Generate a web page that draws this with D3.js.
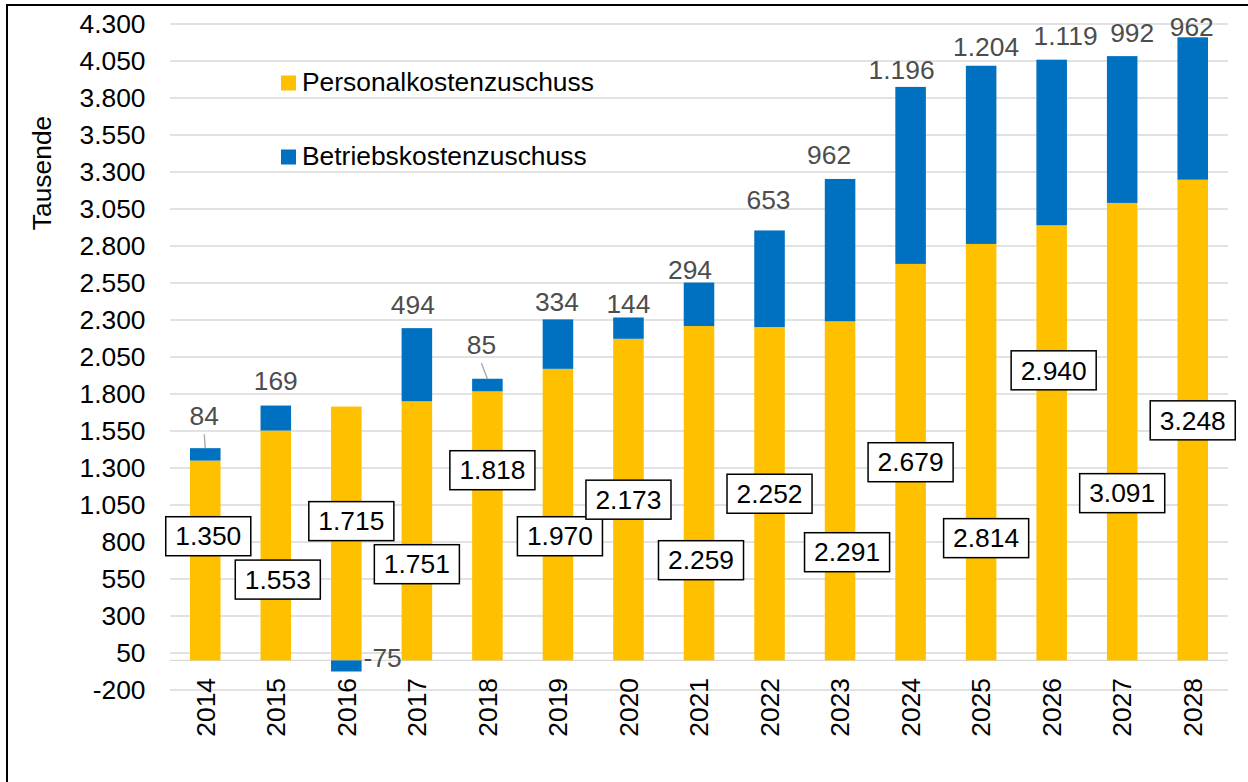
<!DOCTYPE html>
<html>
<head>
<meta charset="utf-8">
<script src="https://cdn.jsdelivr.net/npm/d3@7"></script>
<style>
  body { margin: 0; background: #fff; }
  svg text { font-family: "Liberation Sans", Arial, sans-serif; }
</style>
</head>
<body>
<svg id="chart" width="1248" height="782"></svg>
<script>
const years = ["2014", "2015", "2016", "2017", "2018", "2019", "2020", "2021", "2022", "2023", "2024", "2025", "2026", "2027", "2028"];
const personal = [1350, 1553, 1715, 1751, 1818, 1970, 2173, 2259, 2252, 2291, 2679, 2814, 2940, 3091, 3248];
const betrieb = [84, 169, -75, 494, 85, 334, 144, 294, 653, 962, 1196, 1204, 1119, 992, 962];
const yTicks = d3.range(-200, 4301, 250);
const seriesNames = ["Personalkostenzuschuss", "Betriebskostenzuschuss"];

// where the labels were dragged to in the original (value units)
const personalLabelAt = [839, 546, 941, 650, 1285, 839, 1086, 677, 1126, 731, 1339, 826, 1960, 1130, 1622];
const personalLabelDx = [3, 2, 5, 0, 5, 2, 0, 2, 0, 7, 0, 5, 2, 0, 0];
const betriebLabelAt = [1588, 1825, -44, 2338, 2068, 2364, 2349, 2578, 3051, 3354, 3928, 4085, 4157, 4181, 4220];
const betriebLabelDx = [-1, 0, 0, -4, -6, -1, 0, -9, -1, -11, -9, 5, 14, 10, -1];
const betriebLeader = ["2014", "2018"];

const width = 1248;
const height = 782;
const margin = { top: 24, right: 20, bottom: 92, left: 170 };
const colors = ["#FFC000", "#0070C0"];
const fontSize = 26.4;

const de = d3.formatLocale({ decimal: ",", thousands: ".", grouping: [3], currency: ["", " €"], minus: "-" });
const fmt = de.format(",d");

const svg = d3.select("#chart");

const x = d3.scaleBand()
  .domain(years)
  .range([margin.left, 1228])
  .paddingInner(0.567)
  .paddingOuter(0.2835);

const y = d3.scaleLinear()
  .domain([-200, 4300])
  .range([690, margin.top]);

// frame
svg.append("rect")
  .attr("x", 7).attr("y", 5)
  .attr("width", 1400).attr("height", 1000)
  .attr("fill", "none")
  .attr("stroke", "#000")
  .attr("stroke-width", 2);

// gridlines
svg.append("g")
  .selectAll("line")
  .data(yTicks.concat([0]))
  .join("line")
  .attr("x1", margin.left)
  .attr("x2", 1228)
  .attr("y1", (d) => y(d))
  .attr("y2", (d) => y(d))
  .attr("stroke", "#d9d9d9")
  .attr("stroke-width", 1.3);

// y tick labels
svg.append("g")
  .selectAll("text")
  .data(yTicks)
  .join("text")
  .attr("x", 145.5)
  .attr("y", (d) => y(d))
  .attr("dy", "0.35em")
  .attr("text-anchor", "end")
  .attr("font-size", fontSize)
  .attr("fill", "#000")
  .text((d) => fmt(d));

svg.append("text")
  .attr("transform", `translate(51,173) rotate(-90)`)
  .attr("text-anchor", "middle")
  .attr("font-size", fontSize)
  .attr("fill", "#000")
  .text("Tausende");

// stacked bars
const rows = years.map((yr, i) => ({ year: yr, p: personal[i], b: betrieb[i] }));
const stack = d3.stack().keys(["p", "b"]).offset(d3.stackOffsetDiverging);
const series = stack(rows);

svg.append("g")
  .selectAll("g")
  .data(series)
  .join("g")
  .attr("fill", (d, i) => colors[i])
  .selectAll("rect")
  .data((d) => d)
  .join("rect")
  .attr("x", (d) => x(d.data.year))
  .attr("width", x.bandwidth())
  .attr("y", (d) => y(Math.max(d[0], d[1])))
  .attr("height", (d) => Math.abs(y(d[0]) - y(d[1])));

// year labels
svg.append("g")
  .selectAll("text")
  .data(years)
  .join("text")
  .attr("transform", (d) => `translate(${x(d) + x.bandwidth() / 2},678) rotate(-90)`)
  .attr("text-anchor", "end")
  .attr("dy", "0.35em")
  .attr("font-size", fontSize)
  .attr("fill", "#000")
  .text((d) => d);

// Betriebskosten labels
const topOf = (i) => y(personal[i] + Math.max(betrieb[i], 0));
const bLabels = svg.append("g");
years.forEach((yr, i) => {
  const cx = x(yr) + x.bandwidth() / 2;
  const neg = betrieb[i] < 0;
  const lx = neg ? x(yr) + x.bandwidth() + 2 : cx + betriebLabelDx[i];
  const ly = y(betriebLabelAt[i]);
  if (betriebLeader.includes(yr)) {
    bLabels.append("line")
      .attr("x1", lx).attr("y1", ly + 9)
      .attr("x2", cx).attr("y2", topOf(i))
      .attr("stroke", "#a6a6a6")
      .attr("stroke-width", 1.3);
  }
  bLabels.append("text")
    .attr("x", lx)
    .attr("y", ly)
    .attr("text-anchor", neg ? "start" : "middle")
    .attr("font-size", fontSize)
    .attr("fill", "#4d4d4d")
    .text(fmt(betrieb[i]));
});

// Personalkosten labels in boxes
const pLabels = svg.append("g");
years.forEach((yr, i) => {
  const cx = x(yr) + x.bandwidth() / 2 + personalLabelDx[i];
  const cy = y(personalLabelAt[i]);
  const g = pLabels.append("g");
  const rect = g.append("rect");
  const t = g.append("text")
    .attr("x", cx)
    .attr("y", cy)
    .attr("dy", "0.35em")
    .attr("text-anchor", "middle")
    .attr("font-size", fontSize)
    .attr("fill", "#000")
    .text(fmt(personal[i]));
  const w = t.node().getBBox().width + 19;
  rect.attr("x", cx - w / 2)
    .attr("y", cy - 19.5)
    .attr("width", w)
    .attr("height", 39)
    .attr("fill", "#fff")
    .attr("stroke", "#000")
    .attr("stroke-width", 1.5);
});

// legend
const legend = svg.append("g");
seriesNames.forEach((name, i) => {
  const ly = 91 + i * 74;
  legend.append("rect")
    .attr("x", 281).attr("y", ly - 15.5)
    .attr("width", 15).attr("height", 15)
    .attr("fill", colors[i]);
  legend.append("text")
    .attr("x", 302).attr("y", ly)
    .attr("font-size", fontSize)
    .attr("fill", "#000")
    .text(name);
});
</script>
</body>
</html>
